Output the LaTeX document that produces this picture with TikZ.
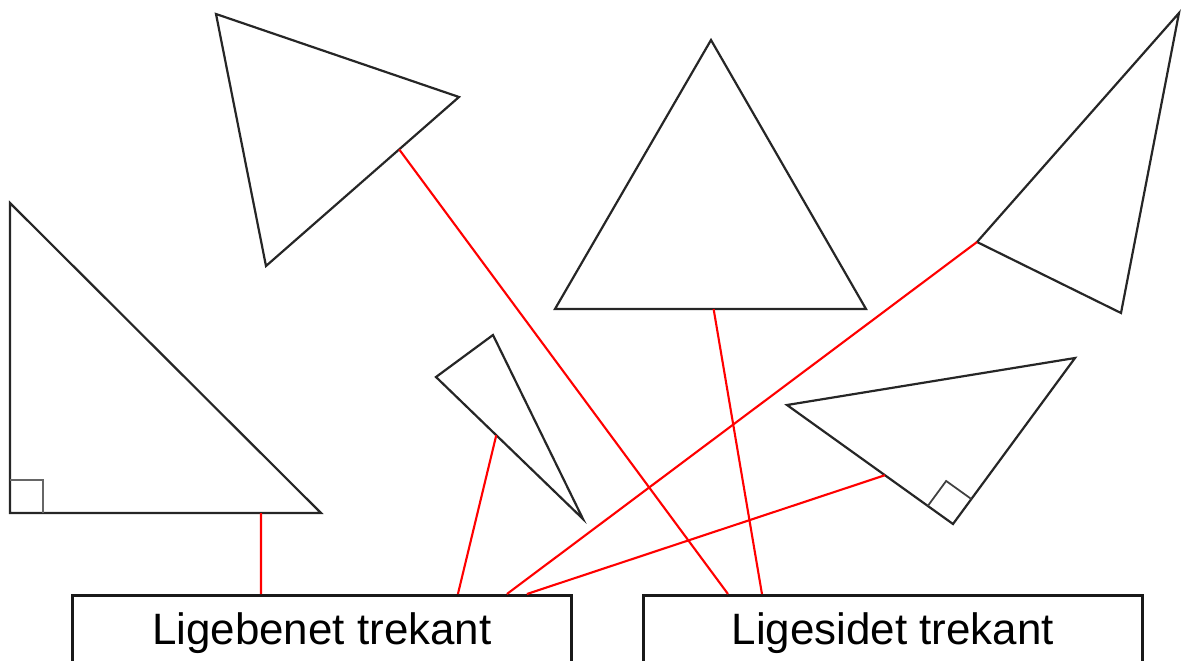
\documentclass[tikz,border=0pt]{standalone}
\usepackage{fontspec}
\setmainfont{Liberation Sans}
\usetikzlibrary{calc}

\begin{document}
\begin{tikzpicture}[x=0.02cm, y=-0.02cm,
    tri/.style={draw=black!85, line width=1.25pt, line join=miter},
    link/.style={red, line width=1.2pt},
    namebox/.style={draw=black!90, line width=1.6pt, minimum width=9.98cm,
      minimum height=1.52cm, inner sep=0pt, anchor=north west,
      font=\fontsize{25}{30}\selectfont}]

    \useasboundingbox (0,0) rectangle (1181,660);

    % boxes
    \node[namebox] (lige) at (71,594) {Ligebenet trekant};
    \node[namebox] (sid) at (642,594) {Ligesidet trekant};

    % top left
    \coordinate (a1) at (216,14);
    \coordinate (a2) at (459,97);
    \coordinate (a3) at (266,266);
    \draw[tri] (a1) -- (a2) -- (a3) -- cycle;

    % equilateral
    \coordinate (b1) at (711,40);
    \coordinate (b2) at (866,309);
    \coordinate (b3) at (555,309);
    \draw[tri] (b1) -- (b2) -- (b3) -- cycle;

    % top right
    \coordinate (c1) at (1179,13);
    \coordinate (c2) at (1121,313);
    \coordinate (c3) at (977,242);
    \draw[tri] (c1) -- (c2) -- (c3) -- cycle;

    % left, right angle
    \coordinate (d1) at (10,203);
    \coordinate (d2) at (10,513);
    \coordinate (d3) at (321,513);
    \draw[tri] (d1) -- (d2) -- (d3) -- cycle;
    \draw[black!60, line width=1pt] (10,480) -| (43,513);

    % thin one
    \coordinate (e1) at (436,377);
    \coordinate (e2) at (493,335);
    \coordinate (e3) at (583,519);
    \draw[tri] (e1) -- (e2) -- (e3) -- cycle;

    % lower right, right angle
    \coordinate (f1) at (787,405);
    \coordinate (f2) at (1075,358);
    \coordinate (f3) at (953,524);
    \draw[tri] (f1) -- (f2) -- (f3) -- cycle;
    \coordinate (q1) at ($(f3)!0.62cm!(f1)$);
    \coordinate (q2) at ($(f3)!0.62cm!(f2)$);
    \draw[black!75, line width=1pt] (q1) -- ($(q1)+(q2)-(f3)$) -- (q2);

    % links
    \draw[link] ($(d2)!0.807!(d3)$) -- ([xshift=3.8cm]lige.north west);
    \draw[link] ($(e1)!0.41!(e3)$) -- ([xshift=7.74cm]lige.north west);
    \draw[link] (c3) -- ([xshift=8.72cm]lige.north west);
    \draw[link] ($(f1)!0.59!(f3)$) -- ([xshift=9.12cm]lige.north west);
    \draw[link] ($(a2)!0.31!(a3)$) -- ([xshift=1.72cm]sid.north west);
    \draw[link] ($(b3)!0.51!(b2)$) -- ([xshift=2.4cm]sid.north west);
\end{tikzpicture}
\end{document}
